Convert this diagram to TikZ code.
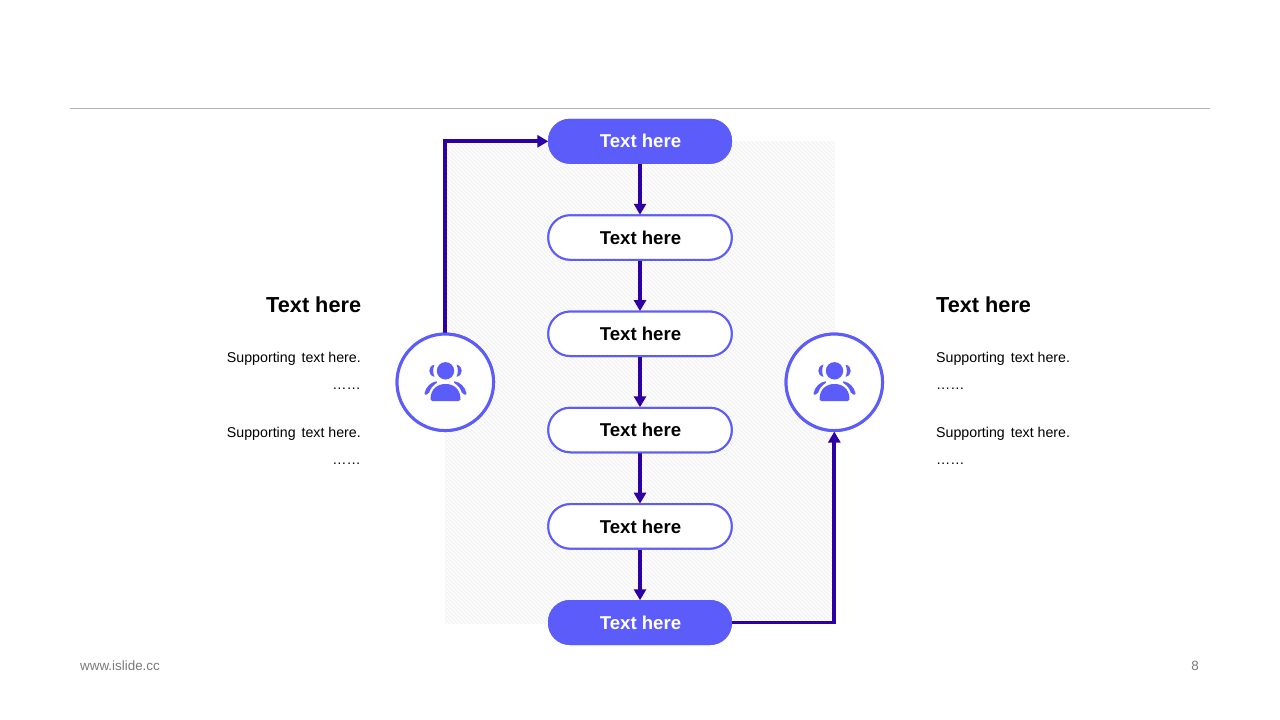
\documentclass[tikz,border=0pt]{standalone}
\usepackage{fontspec}
\setmainfont{Liberation Sans}
\usetikzlibrary{arrows.meta}
\definecolor{vio}{HTML}{5C5CFA}
\definecolor{dvio}{HTML}{2D00A6}
\tikzset{
  x=1pt,y=-1pt,
  pill/.style={rounded corners=22pt,inner sep=0pt,font=\fontsize{18.6}{22}\selectfont\bfseries},
  pillfill/.style={pill,fill=vio,text=white,minimum width=184pt,minimum height=45pt},
  pillopen/.style={pill,draw=vio,line width=2pt,fill=white,text=black,minimum width=183.5pt,minimum height=44.5pt},
  hub/.style={circle,draw=vio,line width=3pt,fill=white,minimum size=96.5pt,inner sep=0pt},
  flow/.style={draw=dvio,line width=3.8pt,-{Triangle[width=12pt,length=11pt]},shorten >=-0.5pt},
  heading/.style={font=\fontsize{21.7}{26}\selectfont\bfseries,inner sep=0pt},
  support/.style={font=\fontsize{14.2}{18}\selectfont,inner sep=0pt},
  foot/.style={font=\fontsize{13.4}{15}\selectfont,text=black!52,inner sep=0pt},
  icon/.style={fill=vio,draw=none}
}
\newcommand{\peopleicon}[2]{%
  \begin{scope}[shift={(#1,#2)}]
    \fill[icon] (0,-11.5) circle (8.7);
    \fill[icon] (-15,17) .. controls (-15,6.5) and (-8,1.7) .. (0,1.7) .. controls (8,1.7) and (15,6.5) .. (15,17) .. controls (15,18.2) and (14.5,18.7) .. (13.5,18.7) -- (-13.5,18.7) .. controls (-14.5,18.7) and (-15,18.2) .. (-15,17) -- cycle;
    % lower arcs
    \fill[icon] (-21,11) .. controls (-19.5,4.5) and (-15,0) .. (-9,-1) .. controls (-8.2,-1) and (-8,0) .. (-9,0.8) .. controls (-12.5,3) and (-15,6) .. (-16.5,10.5) .. controls (-17.5,13) and (-21.5,13) .. (-21,11) -- cycle;
    \fill[icon] (21,11) .. controls (19.5,4.5) and (15,0) .. (9,-1) .. controls (8.2,-1) and (8,0) .. (9,0.8) .. controls (12.5,3) and (15,6) .. (16.5,10.5) .. controls (17.5,13) and (21.5,13) .. (21,11) -- cycle;
    % upper crescents
    \fill[icon] (-11,-17.7) .. controls (-18,-16) and (-18,-7) .. (-11,-5.5) .. controls (-12.8,-9.5) and (-12.8,-13.5) .. (-11,-17.7) -- cycle;
    \fill[icon] (11,-17.7) .. controls (18,-16) and (18,-7) .. (11,-5.5) .. controls (12.8,-9.5) and (12.8,-13.5) .. (11,-17.7) -- cycle;
  \end{scope}}
\begin{document}
\begin{tikzpicture}
\useasboundingbox (0,0) rectangle (1280,720);
\fill[white] (0,0) rectangle (1280,720);
% top rule
\coordinate (ruleL) at (70,108.5);
\coordinate (ruleR) at (1210,108.5);
\draw[draw=black!30,line width=1pt] (ruleL) -- (ruleR);
% hatched panel
\begin{scope}
  \clip (445,141) rectangle (834.5,623.5);
  \fill[white!95!black] (445,141) rectangle (834.5,623.5);
  \foreach \k in {-600,-596,...,400}
    \draw[white,line width=1.3pt] (445+\k,141) -- ++(500,500);
\end{scope}
% nodes
\node[hub] (hubL) at (445.3,382.3) {};
\node[hub] (hubR) at (834.3,382.3) {};
\node[pillfill] (p1) at (640,141.3) {\hspace{1pt}Text here};
\node[pillopen] (p2) at (640,237.5) {\hspace{1pt}Text here};
\node[pillopen] (p3) at (640,333.8) {\hspace{1pt}Text here};
\node[pillopen] (p4) at (640,430) {\hspace{1pt}Text here};
\node[pillopen] (p5) at (640,526.4) {\hspace{1pt}Text here};
\node[pillfill] (p6) at (640,622.5) {\hspace{1pt}Text here};
% connectors
\draw[flow] (hubL.north) |- (p1.west);
\draw[flow] (p1) -- (p2);
\draw[flow] (p2) -- (p3);
\draw[flow] (p3) -- (p4);
\draw[flow] (p4) -- (p5);
\draw[flow] (p5) -- (p6);
\draw[flow] (p6.east) -| (hubR.south);
% repaint nodes above the line starts
\node[hub] at (hubL) {};
\node[hub] at (hubR) {};
\node[pillfill] at (p1) {\hspace{1pt}Text here};
\node[pillopen] at (p2) {\hspace{1pt}Text here};
\node[pillopen] at (p3) {\hspace{1pt}Text here};
\node[pillopen] at (p4) {\hspace{1pt}Text here};
\node[pillopen] at (p5) {\hspace{1pt}Text here};
\node[pillfill] at (p6) {\hspace{1pt}Text here};
\peopleicon{445.5}{382.3}
\peopleicon{834.5}{382.3}
% left text
\node[heading,anchor=east] (tl) at (361.3,305) {Text here};
\node[support,anchor=east] (sl1) at (361,359.3) {Supporting\hspace{2pt} text here.};
\node[support,anchor=east] (dl1) at (361,389) {……};
\node[support,anchor=east] (sl2) at (361,434.3) {Supporting\hspace{2pt} text here.};
\node[support,anchor=east] (dl2) at (361,464) {……};
% right text
\node[heading,anchor=west] (tr) at (936,305) {Text here};
\node[support,anchor=west] (sr1) at (936,359.3) {Supporting\hspace{2pt} text here.};
\node[support,anchor=west] (dr1) at (936,389) {……};
\node[support,anchor=west] (sr2) at (936,434.3) {Supporting\hspace{2pt} text here.};
\node[support,anchor=west] (dr2) at (936,464) {……};
% footer
\node[foot,anchor=west] (web) at (80,666) {www.islide.cc};
\node[foot,anchor=east] (num) at (1199,666) {8};
\end{tikzpicture}
\end{document}
